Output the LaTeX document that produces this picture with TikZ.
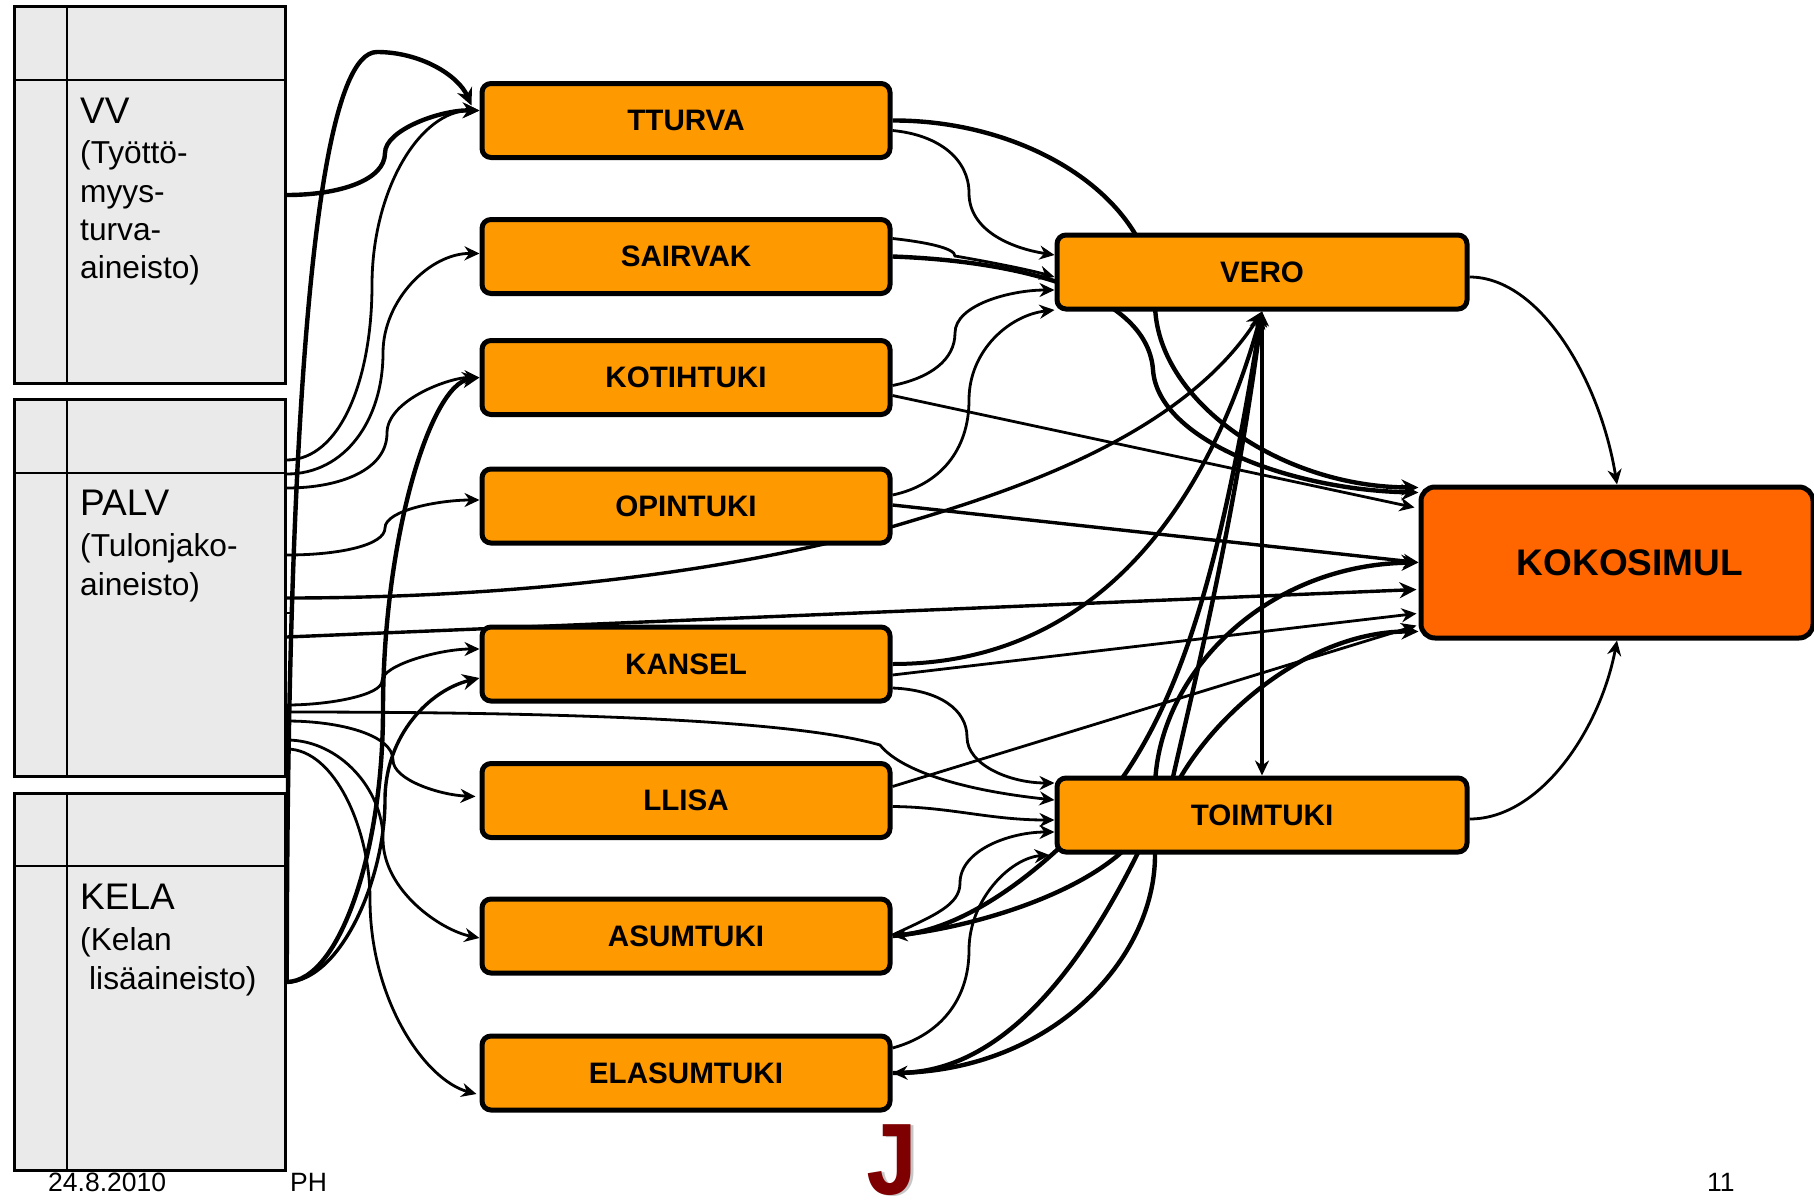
\documentclass[tikz,border=0pt]{standalone}
\usepackage{fontspec}
\setmainfont{Liberation Sans}
\newfontfamily\logofont{Liberation Mono}
\usetikzlibrary{arrows.meta,backgrounds}
\definecolor{boxorange}{HTML}{FF9900}
\definecolor{mainorange}{HTML}{FF6600}
\definecolor{tablegrey}{HTML}{EAEAEA}
\definecolor{logored}{HTML}{7F0000}
\tikzset{
  databox/.style={draw, fill=tablegrey, line width=2.5pt, minimum width=271pt, minimum height=377pt, inner sep=0pt},
  modbox/.style={draw, fill=boxorange, line width=5pt, rounded corners=9pt, minimum width=408pt, minimum height=74pt, font=\fontsize{29.6}{34}\selectfont\bfseries},
  bignote/.style={anchor=west, font=\fontsize{37}{42}\selectfont, inner sep=0pt},
  smallnote/.style={anchor=west, font=\fontsize{31.7}{38}\selectfont, inner sep=0pt, text height=.75em, text depth=.2em},
  footnote/.style={anchor=west, font=\fontsize{26.5}{30}\selectfont, inner sep=0pt},
  thinline/.style={line width=2.8pt, -{Stealth[length=15pt,width=14pt]}},
  thickline/.style={line width=4.4pt, -{Stealth[length=17pt,width=16pt]}}
}
\begin{document}
\begin{tikzpicture}[x=1pt,y=-1pt]
  \useasboundingbox (0,0) rectangle (1814,1199);
  % data tables
  \node[databox] (vv) at (150,195) {};
  \node[databox] (palv) at (150,588) {};
  \node[databox] (kela) at (150,982) {};
  \foreach \tab/\ruley in {vv/80, palv/473, kela/866} {
    \draw[line width=2.5pt] (67,0 |- \tab.north) -- (67,0 |- \tab.south);
    \draw[line width=2.5pt] (\tab.west |- 0,\ruley) -- (\tab.east |- 0,\ruley);
  }
  \node[bignote] (vvname) at (80,111) {VV};
  \node[smallnote] (vvtext) at (80,161) {(Työttö-};
  \node[smallnote] (vvtextb) at (80,199.5) {myys-};
  \node[smallnote] (vvtextc) at (80,237.5) {turva-};
  \node[smallnote] (vvtextd) at (80,276) {aineisto)};
  \node[bignote] (palvname) at (80,503) {PALV};
  \node[smallnote] (palvtext) at (80,554) {(Tulonjako-};
  \node[smallnote] (palvtextb) at (80,593) {aineisto)};
  \node[bignote] (kelaname) at (80,897) {KELA};
  \node[smallnote] (kelatext) at (80,948) {(Kelan};
  \node[smallnote] (kelatextb) at (89,987) {lisäaineisto)};
  % model boxes
  \node[modbox] (tturva) at (686,120.5) {TTURVA};
  \node[modbox] (sairvak) at (686,256.5) {SAIRVAK};
  \node[modbox] (kotihtuki) at (686,377.5) {KOTIHTUKI};
  \node[modbox] (opintuki) at (686,506) {OPINTUKI};
  \node[modbox] (kansel) at (686,664) {KANSEL};
  \node[modbox] (llisa) at (686,800.5) {LLISA};
  \node[modbox] (asumtuki) at (686,936) {ASUMTUKI};
  \node[modbox] (elasumtuki) at (686,1073) {ELASUMTUKI};
  \node[modbox, minimum width=410pt] (vero) at (1262,272) {VERO};
  \node[modbox, minimum width=410pt] (toimtuki) at (1262,815) {TOIMTUKI};
  \node[modbox, fill=mainorange, minimum width=392pt, minimum height=151pt, rounded corners=14pt, font=\fontsize{37}{42}\selectfont\bfseries, text depth=0pt] (kokosimul) at (1617,562.5) {\hspace*{26pt}KOKOSIMUL};
  % footer
  \node[footnote] (date) at (48,1182) {24.8.2010};
  \node[footnote] (author) at (290,1182) {PH};
  \node[footnote] (page) at (1707,1182) {11};
  \node[text=black!22, font=\logofont\bfseries\fontsize{106}{106}\selectfont, inner sep=0pt] (logoshade) at (895,1161) {\scalebox{.9}[1]{J}};
  \node[text=logored, font=\logofont\bfseries\fontsize{106}{106}\selectfont, inner sep=0pt] (logo) at (892,1160) {\scalebox{.9}[1]{J}};
  \begin{scope}[on background layer]
  % into the first column
  \draw[thickline] (kela.east) .. controls (287,760) and (290,52) .. (377,52) .. controls (420,52) and (458,75) .. ([xshift=-8pt,yshift=15pt]tturva.west);
  \draw[thickline] (vv.east) .. controls (340,195) and (385,180) .. (385,153) .. controls (385,130) and (440,110) .. ([yshift=10pt]tturva.west);
  \draw[thinline] ([yshift=128pt]palv.east) .. controls (340,460) and (372,380) .. (372,285) .. controls (372,190) and (420,110) .. ([yshift=10pt]tturva.west);
  \draw[thinline] ([yshift=114pt]palv.east) .. controls (345,474) and (383,420) .. (383,353) .. controls (383,300) and (430,253) .. ([yshift=3pt]sairvak.west);
  \draw[thinline] ([yshift=100pt]palv.east) .. controls (340,488) and (387,470) .. (387,433) .. controls (387,400) and (450,377) .. (kotihtuki.west);
  \draw[thickline] (kela.east) .. controls (340,981) and (383,850) .. (383,710) .. controls (383,540) and (430,385) .. (kotihtuki.west);
  \draw[thinline] ([yshift=33pt]palv.east) .. controls (340,555) and (385,545) .. (385,528) .. controls (385,510) and (440,500) .. ([yshift=6pt]opintuki.west);
  \draw[thinline] ([yshift=-117pt]palv.east) .. controls (330,705) and (382,695) .. (382,681) .. controls (382,665) and (440,649) .. ([yshift=15pt]kansel.west);
  \draw[thickline, line width=3.4pt] (kela.east) .. controls (340,981) and (385,880) .. (385,800) .. controls (385,735) and (430,690) .. ([yshift=-14pt]kansel.west);
  \draw[thinline] ([yshift=-133pt]palv.east) .. controls (340,721) and (393,735) .. (393,760) .. controls (393,780) and (440,795) .. ([xshift=-4pt,yshift=4pt]llisa.west);
  \draw[thinline] ([yshift=-152pt]palv.east) .. controls (340,740) and (383,790) .. (383,839) .. controls (383,890) and (440,930) .. ([yshift=-2pt]asumtuki.west);
  \draw[thinline] ([yshift=-161pt]palv.east) .. controls (335,749) and (370,830) .. (370,899) .. controls (370,1000) and (425,1080) .. ([xshift=-3pt,yshift=-21pt]elasumtuki.west);
  % small mark on the table edge
  \draw[line width=1.5pt] (palv.east |- 0,613) -- (293,613);
  % long lines across the picture
  \draw[thickline, line width=3.4pt] ([yshift=-10pt]palv.east) .. controls (500,598) and (720,575) .. (891,527) .. controls (1000,495) and (1180,440) .. (vero.south);
  \draw[thickline, line width=3.4pt] ([yshift=-49pt]palv.east) -- ([xshift=-2pt,yshift=-27pt]kokosimul.west);
  \draw[thinline] ([yshift=-124pt]palv.east) .. controls (600,712) and (800,722) .. (880,745) .. controls (900,770) and (960,790) .. ([yshift=15pt]toimtuki.west);
  % into VERO
  \draw[thinline] ([yshift=-10pt]tturva.east) .. controls (940,135) and (969,160) .. (969,193) .. controls (969,230) and (1010,248) .. ([yshift=17pt]vero.west);
  \draw[thinline] ([yshift=18pt]sairvak.east) .. controls (925,242) and (955,248) .. (955,256) .. controls (990,262) and (1030,270) .. ([yshift=-5pt]vero.west);
  \draw[thinline] ([yshift=-8pt]kotihtuki.east) .. controls (930,378) and (955,360) .. (955,333) .. controls (955,305) and (1010,290) .. ([yshift=-18pt]vero.west);
  \draw[thinline] ([yshift=11pt]opintuki.east) .. controls (940,485) and (969,450) .. (969,400) .. controls (969,350) and (1010,315) .. ([yshift=-38pt]vero.west);
  \draw[thickline, line width=4pt] (kansel.east) .. controls (1100,664) and (1210,500) .. (vero.south);
  % out of KANSEL and LLISA
  \draw[thinline] ([yshift=-24pt]kansel.east) .. controls (940,690) and (967,710) .. (967,737) .. controls (967,765) and (1010,783) .. ([yshift=32pt]toimtuki.west);
  \draw[thinline] ([yshift=-6pt]llisa.east) .. controls (950,807) and (990,820) .. ([yshift=-5pt]toimtuki.west);
  \draw[thinline] ([yshift=1pt]asumtuki.east) .. controls (935,915) and (960,905) .. (960,883) .. controls (960,850) and (1010,832) .. ([yshift=-17pt]toimtuki.west);
  \draw[thinline] ([yshift=25pt]elasumtuki.east) .. controls (940,1035) and (969,1000) .. (969,950) .. controls (969,900) and (1010,858) .. ([xshift=-5pt,yshift=-40pt]toimtuki.west);
  % first column to KOKOSIMUL
  \draw[thickline] (tturva.east) .. controls (1030,120) and (1155,200) .. (1155,303) .. controls (1155,400) and (1280,487) .. ([yshift=75pt]kokosimul.west);
  \draw[thickline] (sairvak.east) .. controls (1040,262) and (1148,300) .. (1153,370) .. controls (1158,440) and (1290,490) .. ([yshift=70pt]kokosimul.west);
  \draw[thinline] ([yshift=-18pt]kotihtuki.east) -- ([xshift=-4pt,yshift=55pt]kokosimul.west);
  \draw[thinline, line width=3.4pt] ([yshift=1pt]opintuki.east) -- (kokosimul.west);
  \draw[thinline] ([yshift=-11pt]kansel.east) -- ([xshift=-2pt,yshift=-51pt]kokosimul.west);
  \draw[thinline] ([yshift=14pt]llisa.east) -- ([xshift=-2pt,yshift=-63pt]kokosimul.west);
  % both ways
  \draw[thickline, line width=3.4pt, {Stealth[length=15pt,width=14pt]}-{Stealth[length=15pt,width=14pt]}] (vero.south) -- (toimtuki.north);
  \draw[thickline, {Stealth[length=15pt,width=14pt]}-{Stealth[length=15pt,width=14pt]}] (vero.south) .. controls (1225,540) and (1190,680) .. (1123,777) .. controls (1085,830) and (990,925) .. (asumtuki.east);
  \draw[thickline, {Stealth[length=15pt,width=14pt]}-{Stealth[length=15pt,width=14pt]}] (vero.south) .. controls (1235,520) and (1195,680) .. (1173,777) .. controls (1140,850) and (1050,1070) .. (elasumtuki.east);
  \draw[thickline] (asumtuki.east) .. controls (1000,925) and (1155,870) .. (1155,790) .. controls (1155,680) and (1260,565) .. (kokosimul.west);
  \draw[thickline] (elasumtuki.east) .. controls (1050,1073) and (1155,960) .. (1155,855) .. controls (1155,770) and (1280,631) .. ([yshift=-69pt]kokosimul.west);
  % out to KOKOSIMUL from above and below
  \draw[thinline] ([yshift=-5pt]vero.east) .. controls (1540,277) and (1600,380) .. (kokosimul.north);
  \draw[thinline] ([yshift=-4pt]toimtuki.east) .. controls (1540,819) and (1600,730) .. (kokosimul.south);
  \end{scope}
\end{tikzpicture}
\end{document}
